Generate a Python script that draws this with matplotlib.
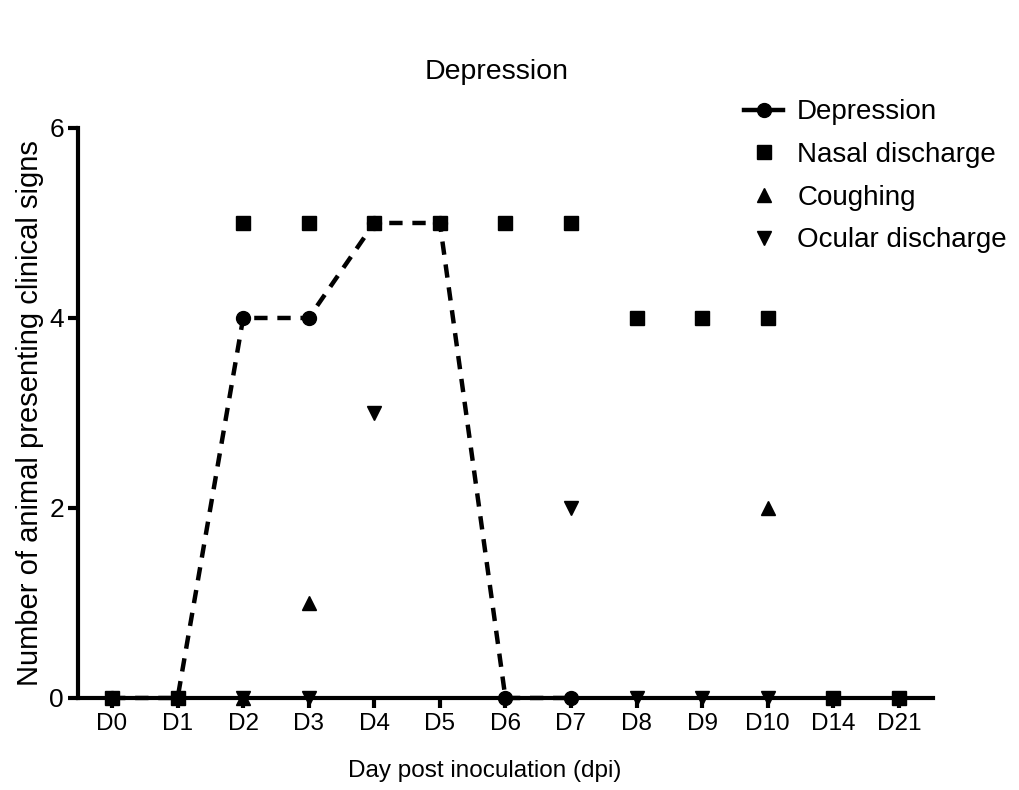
import numpy as np
import matplotlib

matplotlib.use("Agg")
import matplotlib.pyplot as plt  # noqa: E402
from matplotlib.lines import Line2D  # noqa: E402

plt.rcParams["font.family"] = ["Liberation Sans", "DejaVu Sans"]

nan = np.nan
days = ["D0", "D1", "D2", "D3", "D4", "D5", "D6", "D7", "D8", "D9", "D10", "D14", "D21"]
depression = [0, 0, 4, 4, 5, 5, 0, 0, nan, nan, nan, nan, nan]
nasal = [0, 0, 5, 5, 5, 5, 5, 5, 4, 4, 4, 0, 0]
coughing = [nan, nan, 0, 1, nan, nan, nan, nan, nan, nan, 2, nan, nan]
ocular = [nan, nan, 0, 0, 3, nan, nan, 2, 0, 0, 0, nan, nan]

x = np.arange(len(days))

fig = plt.figure(figsize=(10.19, 7.9), dpi=100)
ax = fig.add_axes([0.0765, 0.1165, 0.839, 0.7215])

ax.plot(x, depression, color="black", linestyle=(0, (3, 2.2)), linewidth=3.2,
        marker="o", markersize=10, clip_on=False, zorder=3)
ax.plot(x, nasal, linestyle="none", marker="s", markersize=10, color="black",
        clip_on=False, zorder=4)
ax.plot(x, coughing, linestyle="none", marker="^", markersize=10, color="black",
        clip_on=False, zorder=4)
ax.plot(x, ocular, linestyle="none", marker="v", markersize=10, color="black",
        clip_on=False, zorder=4)

ax.set_xlim(-0.52, len(days) - 0.48)
ax.set_ylim(0, 6)
ax.set_xticks(x)
ax.set_xticklabels(days)
ax.set_yticks([0, 2, 4, 6])

for side in ("top", "right"):
    ax.spines[side].set_visible(False)
for side in ("left", "bottom"):
    ax.spines[side].set_linewidth(3)
    ax.spines[side].set_zorder(2)
ax.tick_params(axis="both", direction="out", length=7, width=3, pad=4)
ax.tick_params(axis="x", labelsize=17.5)
ax.tick_params(axis="y", labelsize=19, pad=3)

ax.set_ylabel("Number of animal presenting clinical signs", fontsize=21, labelpad=4)
fig.text(348 / 1019, 1 - 771 / 790, "Day post inoculation (dpi)", fontsize=17.5,
         ha="left", va="center")
fig.text(425 / 1019, 1 - 72 / 790, "Depression", fontsize=20.5, ha="left", va="center")

handles = [
    Line2D([], [], color="black", linewidth=3.2, marker="o", markersize=10),
    Line2D([], [], color="black", linestyle="none", marker="s", markersize=10),
    Line2D([], [], color="black", linestyle="none", marker="^", markersize=10),
    Line2D([], [], color="black", linestyle="none", marker="v", markersize=10),
]
labels = ["Depression", "Nasal discharge", "Coughing", "Ocular discharge"]
fig.legend(handles, labels, loc="upper left", bbox_to_anchor=(0.706, 0.906),
           frameon=False, fontsize=20, handlelength=1.4, labelspacing=0.6,
           handletextpad=0.5)

fig.savefig("out.png", dpi=100)
